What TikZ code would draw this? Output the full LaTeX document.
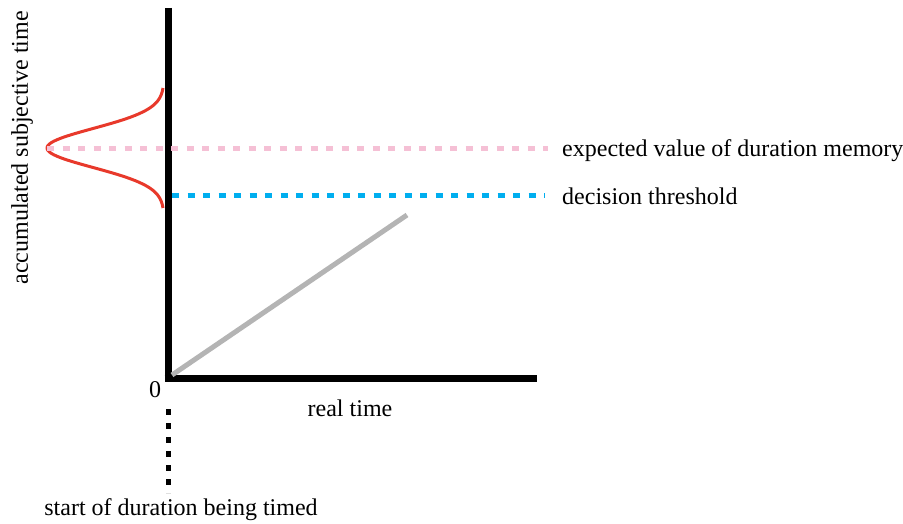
\documentclass[tikz,border=0pt]{standalone}
\usepackage{fontspec}
\setmainfont{Liberation Serif}
\usepackage{tikz}
\usetikzlibrary{positioning}

\definecolor{curvered}{RGB}{232,57,43}
\definecolor{memorypink}{RGB}{245,192,213}
\definecolor{threshblue}{RGB}{0,174,239}
\definecolor{rampgray}{RGB}{180,180,180}

\begin{document}
\begin{tikzpicture}[x=1pt,y=-1pt,
  axis/.style={line width=7pt,black},
  dashline/.style={line width=5pt,dash pattern=on 7pt off 8.5pt},
  lbl/.style={font=\fontsize{24}{28}\selectfont,inner sep=0pt}]
\useasboundingbox (0,0) rectangle (903,524);
% axes
\draw[axis] (168,8) -- (168,381);
\draw[axis] (164.5,378) -- (537,378);
% distribution of remembered durations
\draw[curvered,line width=3pt,smooth,samples=80,domain=88:208]
  plot ({164-117*exp(-((\x-148)^2)/760)},\x);
% expected value and threshold
\draw[dashline,memorypink] (47,149) -- (548,149);
\draw[dashline,threshblue] (172,196) -- (545,196);
% accumulator ramp
\draw[rampgray,line width=5pt] (172,375) -- (407,215);
% start marker
\draw[line width=5pt,dash pattern=on 6pt off 8pt] (168,409) -- (168,493);
% labels
\node[lbl,rotate=90] (ylab) at (22,148) {accumulated subjective time};
\node[lbl] (zero) at (155,390) {0};
\node[lbl] (xlab) at (350,408) {real time};
\node[lbl,anchor=west] (memlab) at (562,151) {expected value of duration memory};
\node[lbl,anchor=west] (thrlab) at (562,196) {decision threshold};
\node[lbl] (startlab) at (181,510) {start of duration being timed};
\end{tikzpicture}
\end{document}
